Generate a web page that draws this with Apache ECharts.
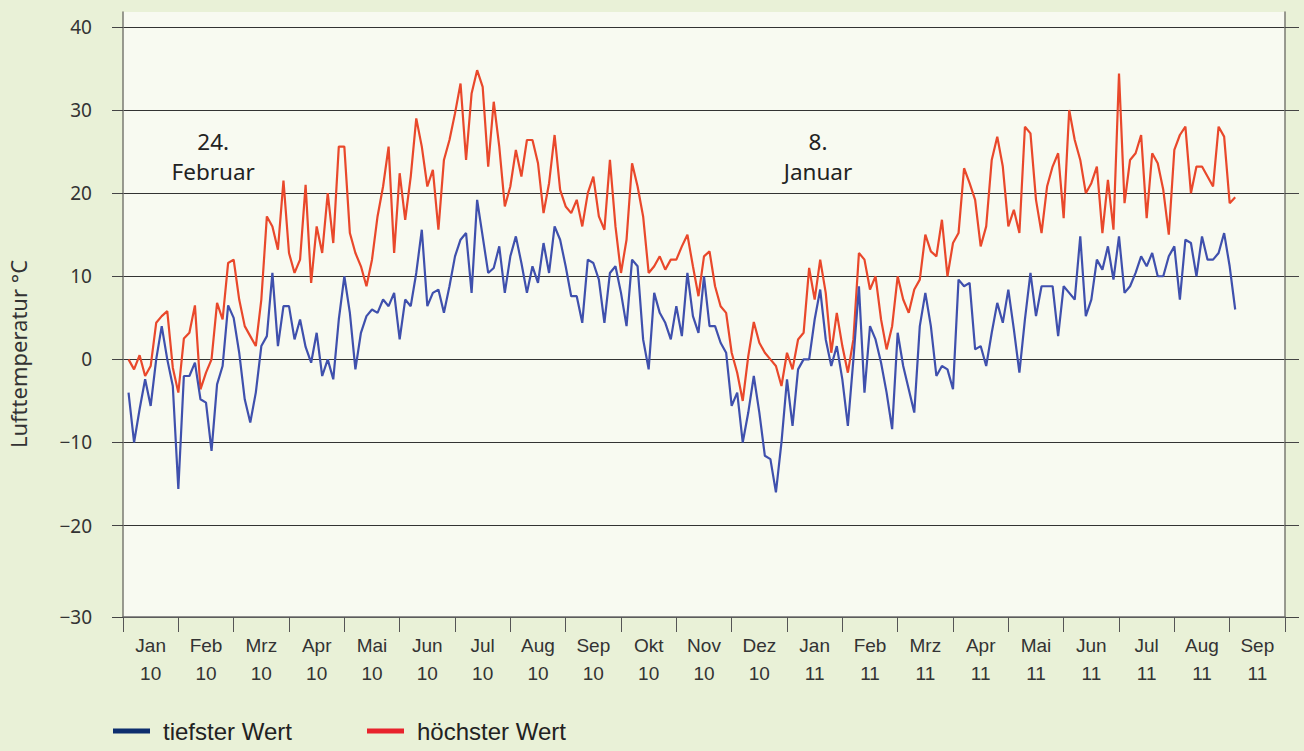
<!DOCTYPE html>
<html>
<head>
<meta charset="utf-8">
<script src="https://cdn.jsdelivr.net/npm/echarts@6/dist/echarts.min.js"></script>
<style>
  html, body { margin: 0; padding: 0; background: #e9f1d7; }
  #chart { width: 1304px; height: 751px; }
</style>
</head>
<body>
<div id="chart"></div>
<script>
// month bands on the x axis (Jan 2010 .. Sep 2011)
const months = ['Jan', 'Feb', 'Mrz', 'Apr', 'Mai', 'Jun', 'Jul', 'Aug', 'Sep', 'Okt', 'Nov', 'Dez',
                'Jan', 'Feb', 'Mrz', 'Apr', 'Mai', 'Jun', 'Jul', 'Aug', 'Sep'];
const years = ['10', '10', '10', '10', '10', '10', '10', '10', '10', '10', '10', '10',
               '11', '11', '11', '11', '11', '11', '11', '11', '11'];

// y ticks; the bottom edge sits a bit below -30 in the original but is labelled -30
const yTicks = [-31, -20, -10, 0, 10, 20, 30, 40];

// samples every 0.1 month (~3 days), first sample at 0.1 month
const STEP = 0.1;
const START = 0.1;

// tiefster Wert (daily minimum), one row per month
const low2010 = [
  -4, -10, -6, -2.4, -5.6, 0, 4, 0, -3.2,
  -15.6, -2, -2, -0.4, -4.8, -5.2, -11, -3, -0.8, 6.5,
  5, 0.8, -4.8, -7.6, -4, 1.6, 2.8, 10.4, 1.6, 6.4,
  6.4, 2.4, 4.8, 1.5, -0.4, 3.2, -2, 0, -2.4, 4.8,
  10, 5.6, -1.2, 3.2, 5.2, 6, 5.6, 7.2, 6.4, 8,
  2.4, 7.2, 6.4, 10.4, 15.6, 6.4, 8, 8.4, 5.6, 8.8,
  12.4, 14.4, 15.2, 8, 19.2, 14.8, 10.4, 11, 13.6, 8,
  12.4, 14.8, 11.6, 8, 11.2, 9.2, 14, 10.4, 16, 14.4,
  11.2, 7.6, 7.6, 4.4, 12, 11.6, 9.6, 4.4, 10.4, 11.2,
  8, 4, 12, 11.2, 2.4, -1.2, 8, 5.6, 4.4, 2.4,
  6.4, 2.8, 10.4, 5.2, 3.2, 10, 4, 4, 2, 0.8,
  -5.6, -4, -10, -6.4, -2, -6.4, -11.6, -12, -16, -10
];
const low2011 = [
  -2.4, -8, -1.2, 0, 0, 4.8, 8.4, 2.4, -0.8, 1.6,
  -2.4, -8, 0, 8.8, -4, 4, 2.4, -0.4, -4, -8.4,
  3.2, -0.8, -3.6, -6.4, 4, 8, 4, -2, -0.8, -1.2,
  -3.6, 9.6, 8.8, 9.2, 1.2, 1.6, -0.8, 3.2, 6.8, 4.4,
  8.4, 3.6, -1.6, 4.8, 10.4, 5.2, 8.8, 8.8, 8.8, 2.8,
  8.8, 8, 7.2, 14.8, 5.2, 7.2, 12, 10.8, 13.6, 9.6,
  14.8, 8, 8.8, 10.4, 12.4, 11.2, 12.8, 10, 10, 12.4,
  13.6, 7.2, 14.4, 14, 10, 14.8, 12, 12, 12.8, 15.2,
  11.2, 6
];

// höchster Wert (daily maximum)
const high2010 = [
  0, -1.2, 0.5, -2, -0.8, 4.4, 5.2, 5.8, -1,
  -4, 2.5, 3.2, 6.5, -3.6, -1.6, 0, 6.8, 4.8, 11.6,
  12, 7.2, 4, 2.8, 1.6, 7.2, 17.2, 16, 13.2, 21.5,
  12.8, 10.4, 12, 21, 9.2, 16, 12.8, 20, 14, 25.6,
  25.6, 15.2, 12.8, 11.2, 8.8, 12, 17.2, 20.8, 25.6, 12.8,
  22.4, 16.8, 22, 29, 25.6, 20.8, 22.8, 15.6, 24, 26.4,
  29.6, 33.2, 24, 32, 34.8, 32.8, 23.2, 31, 25.6, 18.4,
  20.8, 25.2, 22, 26.4, 26.4, 23.6, 17.6, 21.2, 27, 20.4,
  18.4, 17.6, 19.2, 16, 20, 22, 17.2, 15.6, 24, 16,
  10.4, 14.4, 23.6, 20.8, 17.2, 10.4, 11.2, 12.4, 10.8, 12,
  12, 13.6, 15, 11.2, 7.6, 12.4, 13, 8.8, 6.4, 5.6,
  0.8, -1.6, -5, 0.4, 4.5, 2, 0.8, 0, -0.8, -3.2
];
const high2011 = [
  0.8, -1.2, 2.4, 3.2, 11, 7.2, 12, 8, 0.8, 5.6,
  1.6, -1.6, 2.4, 12.8, 12, 8.4, 10, 4.8, 1.2, 4,
  10, 7.2, 5.6, 8.4, 9.6, 15, 13, 12.4, 16.8, 10,
  14, 15.2, 23, 21.2, 19.2, 13.6, 16, 24, 26.8, 23.2,
  16, 18, 15.2, 28, 27.2, 19.2, 15.2, 20.8, 23.2, 24.8,
  17, 30, 26.4, 24, 20, 21.2, 23.2, 15.2, 21.6, 15.6,
  34.4, 18.8, 24, 24.8, 27, 17, 24.8, 23.6, 20.4, 15,
  25.2, 27, 28, 20, 23.2, 23.2, 22, 20.8, 28, 26.8,
  18.8, 19.5
];

// notes in the plot (month position, temperature)
const noteTexts = ['24.\nFebruar', '8.\nJanuar'];
const noteMonths = [1.63, 12.56];
const noteTemps = [24.4, 24.4];

const low = low2010.concat(low2011);
const high = high2010.concat(high2011);
const toPoints = arr => arr.map((v, i) => [START + i * STEP, v]);

const axisFont = "'Liberation Sans Narrow', 'Liberation Sans', sans-serif";
const bodyFont = "'Noto Sans', 'Open Sans', sans-serif";
const minus = v => (v < 0 ? '\u2212' + Math.abs(v) : String(v));

const chart = echarts.init(document.getElementById('chart'), null, { renderer: 'svg' });

const legendText = { fontFamily: axisFont, fontSize: 24, lineHeight: 24, color: '#222', padding: [0, 0, 0, 8] };

const option = {
  backgroundColor: '#e9f1d7',
  animation: false,
  grid: {
    left: 123, right: 19, top: 12, bottom: 134,
    show: true, backgroundColor: '#f8faf1', borderWidth: 0
  },
  xAxis: [
    {
      type: 'category',
      data: months.map((m, i) => m + '\n' + years[i]),
      boundaryGap: true,
      axisLine: { onZero: false, lineStyle: { color: '#6b6b6b', width: 1.5 } },
      axisTick: { show: true, interval: 0, length: 15, lineStyle: { color: '#555' } },
      axisLabel: {
        interval: 0, margin: 14, color: '#333',
        fontFamily: axisFont, fontSize: 19, lineHeight: 28
      },
      splitLine: { show: false }
    },
    { type: 'value', min: 0, max: 21, show: false }
  ],
  yAxis: [
    {
      type: 'value', min: -31, max: 41.8, position: 'left',
      axisLine: { show: true, lineStyle: { color: '#7a7a72', width: 1.5 } },
      axisTick: { show: true, customValues: yTicks, length: 11, lineStyle: { color: '#444' } },
      axisLabel: {
        customValues: yTicks,
        formatter: v => (v === -31 ? minus(-30) : minus(v)),
        margin: 31, color: '#333', fontFamily: bodyFont, fontSize: 19
      },
      splitLine: { show: true, lineStyle: { color: '#333', width: 1 } }
    },
    {
      type: 'value', min: -31, max: 41.8, position: 'right',
      axisLine: { show: true, lineStyle: { color: '#7a7a72', width: 1.5 } },
      axisTick: { show: true, customValues: yTicks, length: 14, lineStyle: { color: '#444' } },
      axisLabel: { show: false },
      splitLine: { show: false }
    }
  ],
  legend: [
    {
      left: 108, top: 714, icon: 'rect', itemWidth: 37, itemHeight: 5,
      selectedMode: false,
      data: [{ name: 'tiefster Wert', itemStyle: { color: '#0d2e6e' } }],
      textStyle: legendText
    },
    {
      left: 362, top: 714, icon: 'rect', itemWidth: 37, itemHeight: 5,
      selectedMode: false,
      data: [{ name: 'höchster Wert', itemStyle: { color: '#e8232c' } }],
      textStyle: legendText
    }
  ],
  graphic: [
    {
      type: 'text',
      rotation: Math.PI / 2,
      x: 18, y: 354,
      style: {
        text: 'Lufttemperatur °C', fontFamily: bodyFont, fontSize: 22,
        fill: '#333', align: 'center', verticalAlign: 'middle'
      }
    }
  ],
  series: [
    {
      name: 'höchster Wert', type: 'line', xAxisIndex: 1, yAxisIndex: 0,
      data: toPoints(high), symbol: 'none', showSymbol: false,
      lineStyle: { color: '#e9482b', width: 2.2 },
      itemStyle: { color: '#e8232c' },
      markPoint: {
        silent: true, symbol: 'circle', symbolSize: 0,
        label: {
          show: true, position: 'inside', formatter: '{b}',
          fontFamily: bodyFont, fontSize: 22.5, lineHeight: 30, color: '#222', align: 'center'
        },
        data: noteTexts.map((t, i) => ({ name: t, coord: [noteMonths[i], noteTemps[i]] }))
      }
    },
    {
      name: 'tiefster Wert', type: 'line', xAxisIndex: 1, yAxisIndex: 0,
      data: toPoints(low), symbol: 'none', showSymbol: false,
      lineStyle: { color: '#3f50ad', width: 2.2 },
      itemStyle: { color: '#0d2e6e' }
    }
  ]
};

chart.setOption(option);
</script>
</body>
</html>
